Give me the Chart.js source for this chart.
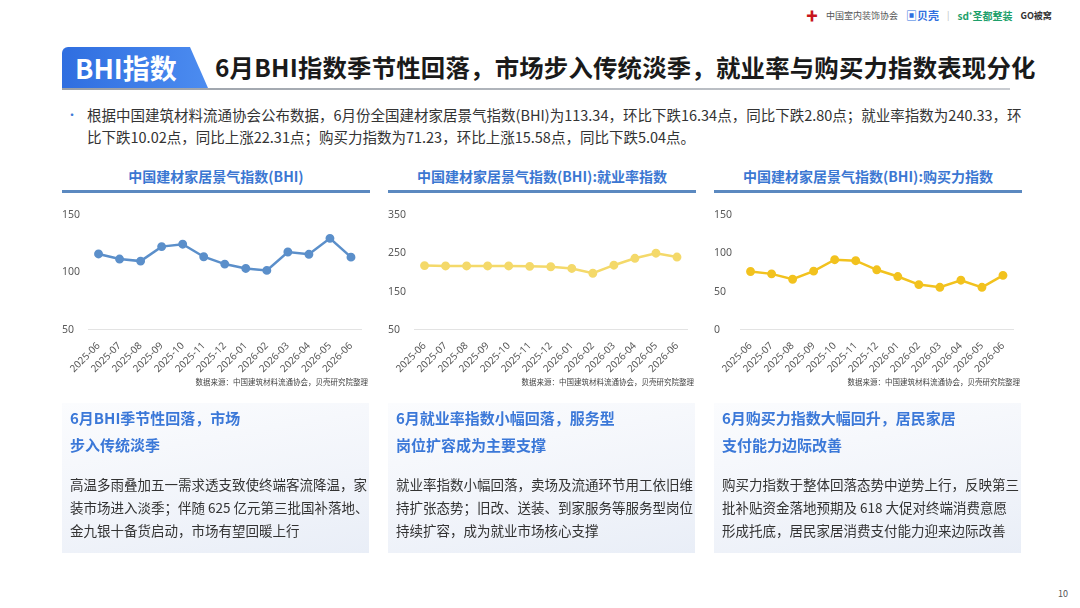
<!DOCTYPE html>
<html>
<head>
<meta charset="utf-8">
<script src="https://cdn.jsdelivr.net/npm/chart.js@4.4.0/dist/chart.umd.min.js"></script>
<style>
  html, body { margin: 0; padding: 0; }
  body { width: 1080px; height: 608px; position: relative; background: #fff; overflow: hidden;
         font-family: "Noto Sans CJK SC", "Noto Sans", sans-serif; color: #333; }
  .abs { position: absolute; }
  .logos { top: 6px; left: 806px; height: 18px; font-size: 9px; color: #555; display: flex; align-items: center; gap: 8px; white-space: nowrap; }
  .logos .cida { color: #c8161d; font-weight: bold; font-size: 12px; }
  .logos .bk { color: #2f6fe0; font-weight: bold; font-size: 11px; }
  .logos .sd { color: #1e9f6a; font-weight: bold; font-size: 10px; }
  .tag { top: 47px; left: 62px; width: 146px; height: 41px; background: linear-gradient(90deg, #2f6ee0, #4c8cf0);
         clip-path: polygon(0 0, 128px 0, 146px 41px, 0 41px); border-radius: 6px 0 0 0;
         color: #fff; font-weight: bold; font-size: 27px; line-height: 41px; padding-left: 13px; box-sizing: border-box; }
  .title { top: 47px; left: 215px; font-size: 24.4px; font-weight: bold; color: #1a1a1a; line-height: 40px; white-space: nowrap; letter-spacing: 0.2px; }
  .rule { top: 88px; left: 62px; width: 948px; height: 2px; background: linear-gradient(90deg, #9aa0a8, #c9ccd1); }
  .bullet { top: 106px; left: 66px; color: #3d7ad6; font-size: 12px; }
  .lead { top: 104px; left: 87px; font-size: 14.5px; line-height: 21.5px; color: #333; white-space: nowrap; }
  .ptitle { top: 166px; width: 308px; text-align: center; font-size: 14px; font-weight: bold; color: #3b77d2; }
  .pline { top: 190px; width: 308px; height: 3px; background: #5b89c0; }
  .chartbox { top: 203px; width: 310px; height: 174px; }
  .src { top: 376px; width: 306px; text-align: right; font-size: 7.5px; color: #444; }
  .card { top: 403px; width: 307px; height: 150px; background: linear-gradient(170deg, #fbfcfe 0%, #f1f4fa 60%, #e9eef7 100%); }
  .card .h { position: absolute; left: 8px; top: 1px; font-size: 15px; font-weight: bold; color: #3b78d8; line-height: 27px; white-space: nowrap; }
  .card .b { position: absolute; left: 8px; top: 70px; font-size: 13.5px; color: #333; line-height: 23px; white-space: nowrap; }
  .page { top: 587px; left: 1058px; font-size: 9px; color: #555; }
</style>
</head>
<body>
<div class="abs logos"><span class="cida">✚</span><span>中国室内装饰协会</span><span class="bk">▣贝壳</span><span style="color:#bbb">|</span><span class="sd">sd⁺圣都整装</span><span style="font-weight:bold;color:#333">GO被窝</span></div>

<div class="abs tag">BHI指数</div>
<div class="abs title">6月BHI指数季节性回落，市场步入传统淡季，就业率与购买力指数表现分化</div>
<div class="abs rule"></div>

<div class="abs bullet">•</div>
<div class="abs lead">根据中国建筑材料流通协会公布数据，6月份全国建材家居景气指数(BHI)为113.34，环比下跌16.34点，同比下跌2.80点；就业率指数为240.33，环<br>比下跌10.02点，同比上涨22.31点；购买力指数为71.23，环比上涨15.58点，同比下跌5.04点。</div>

<div class="abs ptitle" style="left:62px">中国建材家居景气指数(BHI)</div>
<div class="abs pline" style="left:62px"></div>
<div class="abs chartbox" style="left:58px"><canvas id="c1"></canvas></div>
<div class="abs src" style="left:62px">数据来源：中国建筑材料流通协会，贝壳研究院整理</div>

<div class="abs ptitle" style="left:388px">中国建材家居景气指数(BHI):就业率指数</div>
<div class="abs pline" style="left:388px"></div>
<div class="abs chartbox" style="left:384px"><canvas id="c2"></canvas></div>
<div class="abs src" style="left:388px">数据来源：中国建筑材料流通协会，贝壳研究院整理</div>

<div class="abs ptitle" style="left:714px">中国建材家居景气指数(BHI):购买力指数</div>
<div class="abs pline" style="left:714px"></div>
<div class="abs chartbox" style="left:710px"><canvas id="c3"></canvas></div>
<div class="abs src" style="left:714px">数据来源：中国建筑材料流通协会，贝壳研究院整理</div>

<div class="abs card" style="left:62px">
  <div class="h">6月BHI季节性回落，市场<br>步入传统淡季</div>
  <div class="b">高温多雨叠加五一需求透支致使终端客流降温，家<br>装市场进入淡季；伴随 625 亿元第三批国补落地、<br>金九银十备货启动，市场有望回暖上行</div>
</div>
<div class="abs card" style="left:388px">
  <div class="h">6月就业率指数小幅回落，服务型<br>岗位扩容成为主要支撑</div>
  <div class="b">就业率指数小幅回落，卖场及流通环节用工依旧维<br>持扩张态势；旧改、送装、到家服务等服务型岗位<br>持续扩容，成为就业市场核心支撑</div>
</div>
<div class="abs card" style="left:714px">
  <div class="h">6月购买力指数大幅回升，居民家居<br>支付能力边际改善</div>
  <div class="b">购买力指数于整体回落态势中逆势上行，反映第三<br>批补贴资金落地预期及 618 大促对终端消费意愿<br>形成托底，居民家居消费支付能力迎来边际改善</div>
</div>

<div class="abs page">10</div>

<script>
const months = ['2025-06', '2025-07', '2025-08', '2025-09', '2025-10', '2025-11', '2025-12',
                '2026-01', '2026-02', '2026-03', '2026-04', '2026-05', '2026-06'];
const bhiIndex = [116.14, 111.7, 109.9, 122.5, 124.6, 113.7, 107.3, 103.5, 101.8, 117.8, 115.8, 129.68, 113.34];
const jobIndex = [218.02, 217, 217, 217, 217, 216, 215, 210.5, 198, 219, 237, 250.35, 240.33];
const buyIndex = [76.27, 73.2, 66.2, 76.8, 91.7, 90.4, 78.5, 69.7, 59.2, 55.7, 64.9, 55.65, 71.23];

function makeChart(id, values, color, yMin, yMax, yStep) {
  new Chart(document.getElementById(id), {
    type: 'line',
    data: {
      labels: months,
      datasets: [{
        data: values,
        borderColor: color,
        backgroundColor: color,
        pointBackgroundColor: color,
        pointBorderColor: color,
        borderWidth: 2.5,
        pointRadius: 3.2,
        tension: 0
      }]
    },
    options: {
      responsive: true,
      maintainAspectRatio: false,
      animation: false,
      layout: { padding: { top: 12, right: 2, left: 4, bottom: 0 } },
      plugins: { legend: { display: false }, tooltip: { enabled: false } },
      scales: {
        x: {
          offset: true,
          grid: { display: false },
          border: { display: true, color: '#e3e3e3', width: 1 },
          // the rotated first label has room to hang left, no extra margin
          afterFit: (s) => { s.paddingLeft = 0; },
          ticks: { maxRotation: 45, minRotation: 45, autoSkip: false, color: '#595959',
                   font: { size: 10, family: 'Noto Sans, sans-serif' }, padding: 2 }
        },
        y: {
          min: yMin, max: yMax,
          grid: { display: false, drawTicks: false },
          border: { display: false },
          ticks: { stepSize: yStep, color: '#595959', padding: 4, crossAlign: 'far',
                   font: { size: 10.5, family: 'Noto Sans, sans-serif' } }
        }
      }
    }
  });
}

makeChart('c1', bhiIndex, '#5b8fca', 50, 150, 50);
makeChart('c2', jobIndex, '#f4d96a', 50, 350, 100);
makeChart('c3', buyIndex, '#f2c21e', 0, 150, 50);
</script>
</body>
</html>
